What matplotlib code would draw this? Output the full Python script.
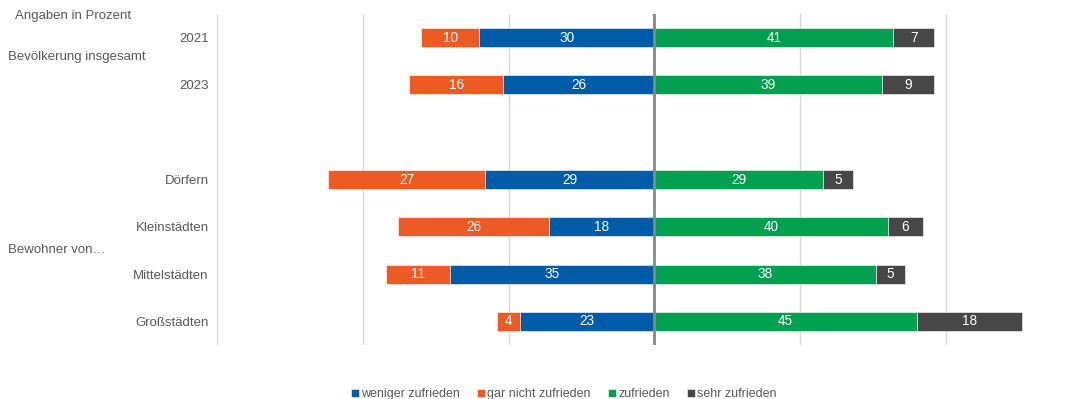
import matplotlib.pyplot as plt
import numpy as np

plt.rcParams["font.family"] = ["Liberation Sans", "DejaVu Sans"]

categories = ["2021", "2023", "", "Dörfern", "Kleinstädten", "Mittelstädten", "Großstädten"]
weniger = [30, 26, 0, 29, 18, 35, 23]
gar_nicht = [10, 16, 0, 27, 26, 11, 4]
zufrieden = [41, 39, 0, 29, 40, 38, 45]
sehr = [7, 9, 0, 5, 6, 5, 18]

c_blue = "#005CA9"
c_orange = "#EE5A24"
c_green = "#00A050"
c_dark = "#474747"
c_text = "#595959"

W, H = 1080, 399
fig = plt.figure(figsize=(W / 100, H / 100), dpi=100)
ax = fig.add_axes([217 / W, 1 - 345 / H, (W - 217) / W, (345 - 14) / H])

y = np.arange(len(categories))
weniger = np.array(weniger)
gar_nicht = np.array(gar_nicht)
zufrieden = np.array(zufrieden)
sehr = np.array(sehr)

h = 0.4
kw = dict(height=h, edgecolor="white", linewidth=0.4, zorder=3)
b1 = ax.barh(y, -weniger, color=c_blue, label="weniger zufrieden", **kw)
b2 = ax.barh(y, -gar_nicht, left=-weniger, color=c_orange, label="gar nicht zufrieden", **kw)
b3 = ax.barh(y, zufrieden, color=c_green, label="zufrieden", **kw)
b4 = ax.barh(y, sehr, left=zufrieden, color=c_dark, label="sehr zufrieden", **kw)

for i in range(len(categories)):
    if categories[i] == "":
        continue
    ax.text(-weniger[i] / 2, y[i], str(weniger[i]), color="white", ha="center", va="center", fontsize=9.8, zorder=4)
    ax.text(-weniger[i] - gar_nicht[i] / 2, y[i], str(gar_nicht[i]), color="white", ha="center", va="center", fontsize=9.8, zorder=4)
    ax.text(zufrieden[i] / 2, y[i], str(zufrieden[i]), color="white", ha="center", va="center", fontsize=9.8, zorder=4)
    ax.text(zufrieden[i] + sehr[i] / 2, y[i], str(sehr[i]), color="white", ha="center", va="center", fontsize=9.8, zorder=4)

ax.set_xlim(-75, 73)
ax.set_ylim(len(categories) - 0.5, -0.5)
for gx in [-75, -50, -25, 25, 50]:
    ax.axvline(gx, color="#D9D9D9", lw=1, zorder=1)
ax.axvline(0, color="#888888", lw=2, zorder=5)

ax.set_xticks([])
ax.set_yticks(y)
ax.set_yticklabels(categories, fontsize=9.5, color=c_text)
ax.tick_params(axis="y", length=0, pad=6)
for s in ax.spines.values():
    s.set_visible(False)

fig.text(15 / W, 1 - 16 / H, "Angaben in Prozent", fontsize=9.5, color=c_text, va="center")
fig.text(8 / W, 1 - 57 / H, "Bevölkerung insgesamt", fontsize=9.5, color=c_text, va="center")
fig.text(8 / W, 1 - 250 / H, "Bewohner von…", fontsize=9.5, color=c_text, va="center")

fig.legend(handles=[b1, b2, b3, b4], loc="center", bbox_to_anchor=(564 / W, 1 - 394 / H),
           ncol=4, frameon=False, fontsize=9, handlelength=0.6, handleheight=0.6,
           handletextpad=0.2, columnspacing=1.4, labelcolor=c_text)

fig.savefig("out.png", dpi=100)
